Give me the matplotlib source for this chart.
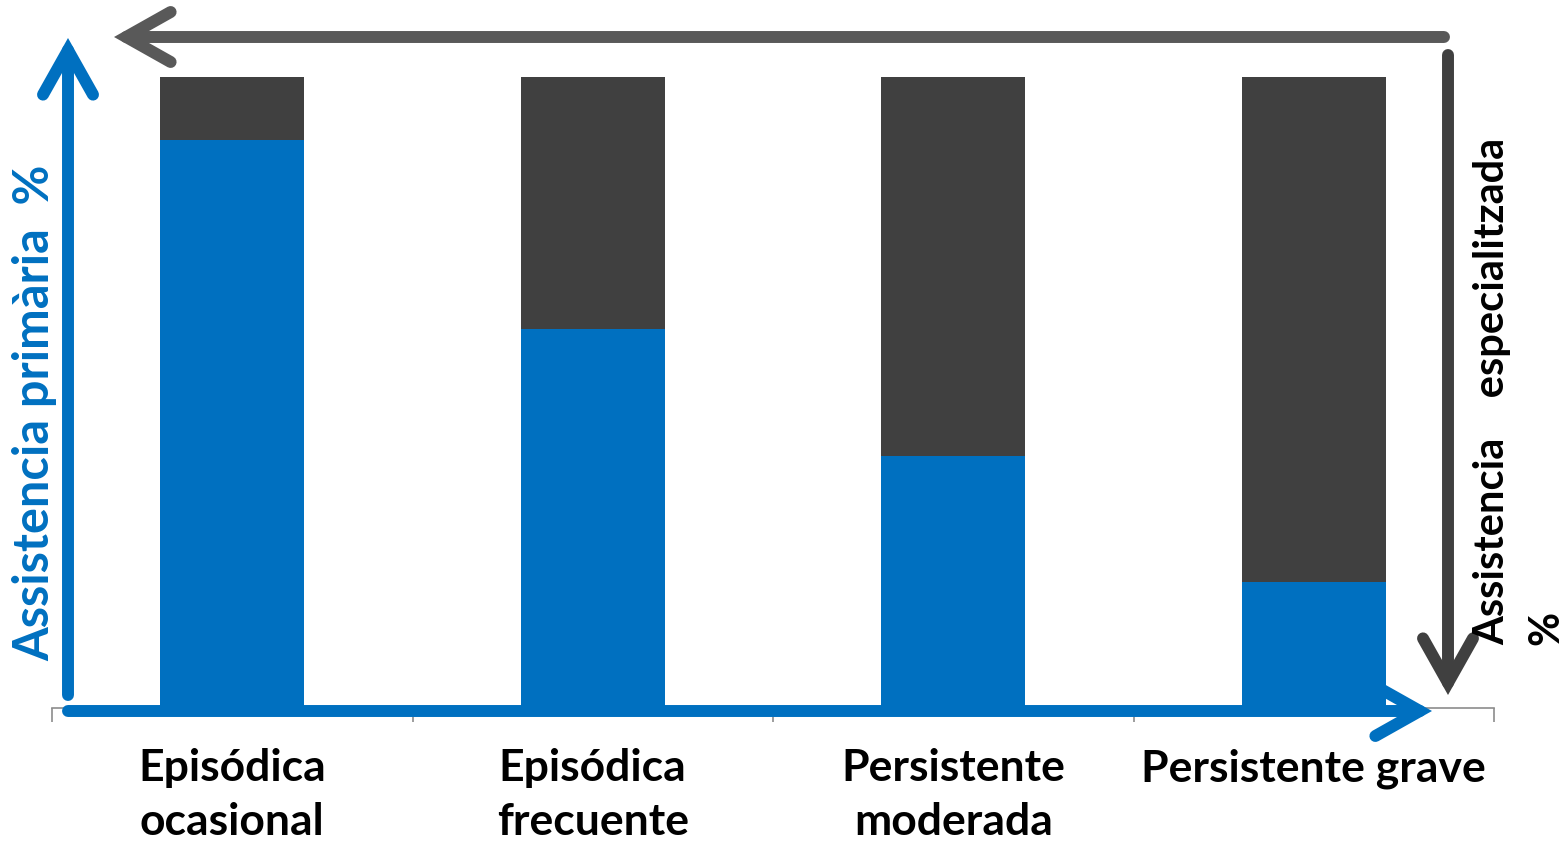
import matplotlib
matplotlib.use("Agg")
import matplotlib.pyplot as plt
from matplotlib.patches import FancyArrowPatch, ArrowStyle

categories = ["Episódica\nocasional", "Episódica\nfrecuente", "Persistente\nmoderada", "Persistente grave"]
primaria = [90, 60, 40, 20]
especializada = [10, 40, 60, 80]

BLUE = "#0070C0"
DARK = "#404040"
GREY = "#595959"

plt.rcParams['font.family'] = ['Lato', 'DejaVu Sans']

W, H = 1565, 846
fig = plt.figure(figsize=(W / 100, H / 100), dpi=100)


def fx(px):
    return px / W


def fy(py):
    return 1 - py / H


ax = fig.add_axes([fx(52), fy(708), fx(1494) - fx(52), fy(77) - fy(708)])
x = range(len(categories))
ax.bar(x, primaria, width=0.4, color=BLUE, zorder=2)
ax.bar(x, especializada, width=0.4, bottom=primaria, color=DARK, zorder=2)
ax.set_xlim(-0.5, len(categories) - 0.5)
ax.set_ylim(0, 100)
ax.set_yticks([])
for s in ["top", "left", "right"]:
    ax.spines[s].set_visible(False)
ax.spines["bottom"].set_color("#8C8C8C")
ax.spines["bottom"].set_linewidth(1.2)
ax.set_xticks([i - 0.5 for i in range(len(categories) + 1)])
ax.set_xticklabels([])
ax.tick_params(axis="x", which="major", length=10, width=1.2, color="#8C8C8C")
ax.set_xticks(list(x), minor=True)
ax.set_xticklabels(categories, minor=True, fontsize=32, fontweight="bold", linespacing=1.42)
ax.tick_params(axis="x", which="minor", length=0, pad=29)


def arrow(p0, p1, color, lw=8.6):
    a = FancyArrowPatch((fx(p0[0]), fy(p0[1])), (fx(p1[0]), fy(p1[1])),
                        transform=fig.transFigure,
                        arrowstyle=ArrowStyle("->", head_length=32, head_width=18),
                        mutation_scale=1, shrinkA=0, shrinkB=0,
                        color=color, linewidth=lw, capstyle="round", joinstyle="miter")
    fig.add_artist(a)


# arrows around the chart
arrow((68, 695), (68, 38), BLUE)
arrow((68, 711), (1432, 711), BLUE)
arrow((1444, 37), (114, 37), GREY)
arrow((1448, 55), (1448, 695), DARK)

fig.text(fx(35), fy(413), "Assistencia primària  %", rotation=90, color=BLUE,
         fontsize=35, fontweight="bold", ha="center", va="center")
fig.text(fx(1492), fy(645), "Assistencia    especialitzada", rotation=90, color="black",
         fontsize=30, fontweight="bold", ha="center", va="bottom")
fig.text(fx(1546), fy(645), "%", rotation=90, color="black",
         fontsize=30, fontweight="bold", ha="center", va="bottom")

fig.savefig("out.png", dpi=100)
